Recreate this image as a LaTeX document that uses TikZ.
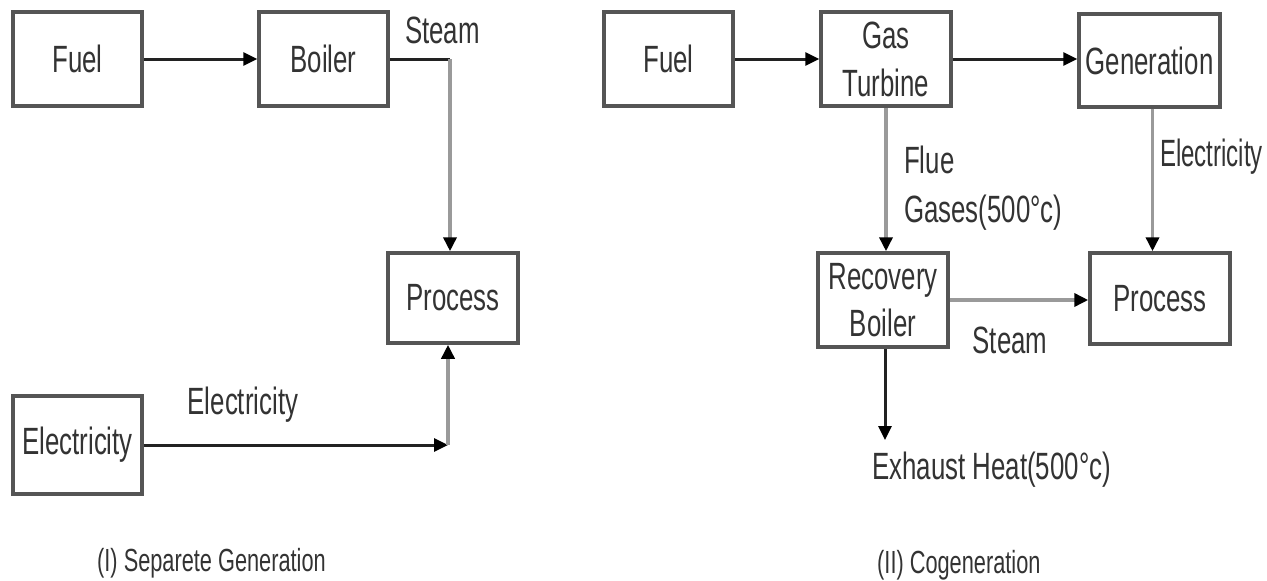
\documentclass[tikz,border=0pt]{standalone}
\usepackage{fontspec}
\usepackage{graphicx}
\setmainfont{Liberation Sans}[FakeStretch=0.68]
\usetikzlibrary{arrows.meta}
\definecolor{boxc}{HTML}{555555}
\definecolor{txtc}{HTML}{333333}
\definecolor{linec}{HTML}{222222}
\definecolor{grayc}{HTML}{9A9A9A}
\newcommand\dgbig{\fontsize{38}{47}\selectfont}
\newcommand\dgcap{\fontsize{32}{38}\selectfont}
\tikzset{
  box/.style={draw=boxc, line width=3.5pt, inner sep=0pt, text=txtc, font=\dgbig, align=center},
  lab/.style={text=txtc, font=\dgbig, inner sep=0pt},
  caplab/.style={text=txtc, font=\dgcap, inner sep=0pt},
  blk/.style={draw=linec, line width=3pt},
  gry/.style={draw=grayc, line width=3.5pt},
  arr/.style={-{Triangle[length=14pt,width=13pt,color=black]}}
}
\begin{document}
\begin{tikzpicture}[x=1pt,y=-1pt]
\useasboundingbox[fill=white] (0,0) rectangle (1267,581);
% (I) separate generation
\node[box, minimum width=129pt, minimum height=94pt] (fuelL) at (77.5,59) {Fuel};
\node[box, minimum width=129pt, minimum height=94pt] (boiler) at (323.5,59) {Boiler};
\node[box, minimum width=130pt, minimum height=90pt] (processL) at (453,298) {Process};
\node[box, minimum width=129pt, minimum height=98pt] (elecL) at (77.5,445) {Electricity};
\coordinate (sC) at (450,59);
\coordinate (eC) at (448,445);
\draw[blk,arr] (fuelL) -- (boiler);
\draw[blk] (boiler.east) -- (sC);
\draw[gry,arr] (sC) -- (sC |- processL.north);
\draw[blk,arr] (elecL.east) -- (eC);
\draw[gry,arr] (eC) -- (eC |- processL.south);
\node[lab, anchor=west] (steamL) at (405,30) {Steam};
\node[lab] (elecLab) at (243,405) {Electricity};
\node[caplab, anchor=west] (capL) at (97,563) {(I)\ Separete Generation};
% (II) cogeneration
\node[box, minimum width=129pt, minimum height=94pt] (fuelR) at (668.5,59) {Fuel};
\node[box, minimum width=130pt, minimum height=94pt] (gasT) at (886,59) {Gas\\[1pt]Turbine};
\node[box, minimum width=141pt, minimum height=93pt] (gen) at (1149.5,60.5) {Generation};
\node[box, minimum width=130pt, minimum height=94pt] (recov) at (883,300) {Recovery\\Boiler};
\node[box, minimum width=140pt, minimum height=91pt] (processR) at (1160,298.5) {Process};
\coordinate (exh) at (885,440);
\draw[blk,arr] (fuelR) -- (gasT);
\draw[blk,arr] (gasT.east) -- (gasT.east -| gen.west);
\draw[gry,arr] (gasT.south) -- (gasT.south |- recov.north);
\draw[gry,arr] ([xshift=3pt]gen.south) -- ([xshift=3pt]gen.south |- processR.north);
\draw[gry,arr] (recov.east) -- (recov.east -| processR.west);
\draw[blk,arr] (recov.south -| exh) -- (exh);
\node[lab, anchor=west] (flue) at (904,160) {Flue};
\node[lab, anchor=west] (gases) at (904,213) {Gases(500°c)};
\node[lab, anchor=west] (elecR) at (1160,157) {\scalebox{0.93}[1]{Electricity}};
\node[lab] (steamR) at (1010,340) {Steam};
\node[lab, anchor=west] (exhL) at (872,470) {Exhaust Heat(500°c)};
\node[caplab, anchor=west] (capR) at (877,565) {(II) Cogeneration};
\end{tikzpicture}
\end{document}
